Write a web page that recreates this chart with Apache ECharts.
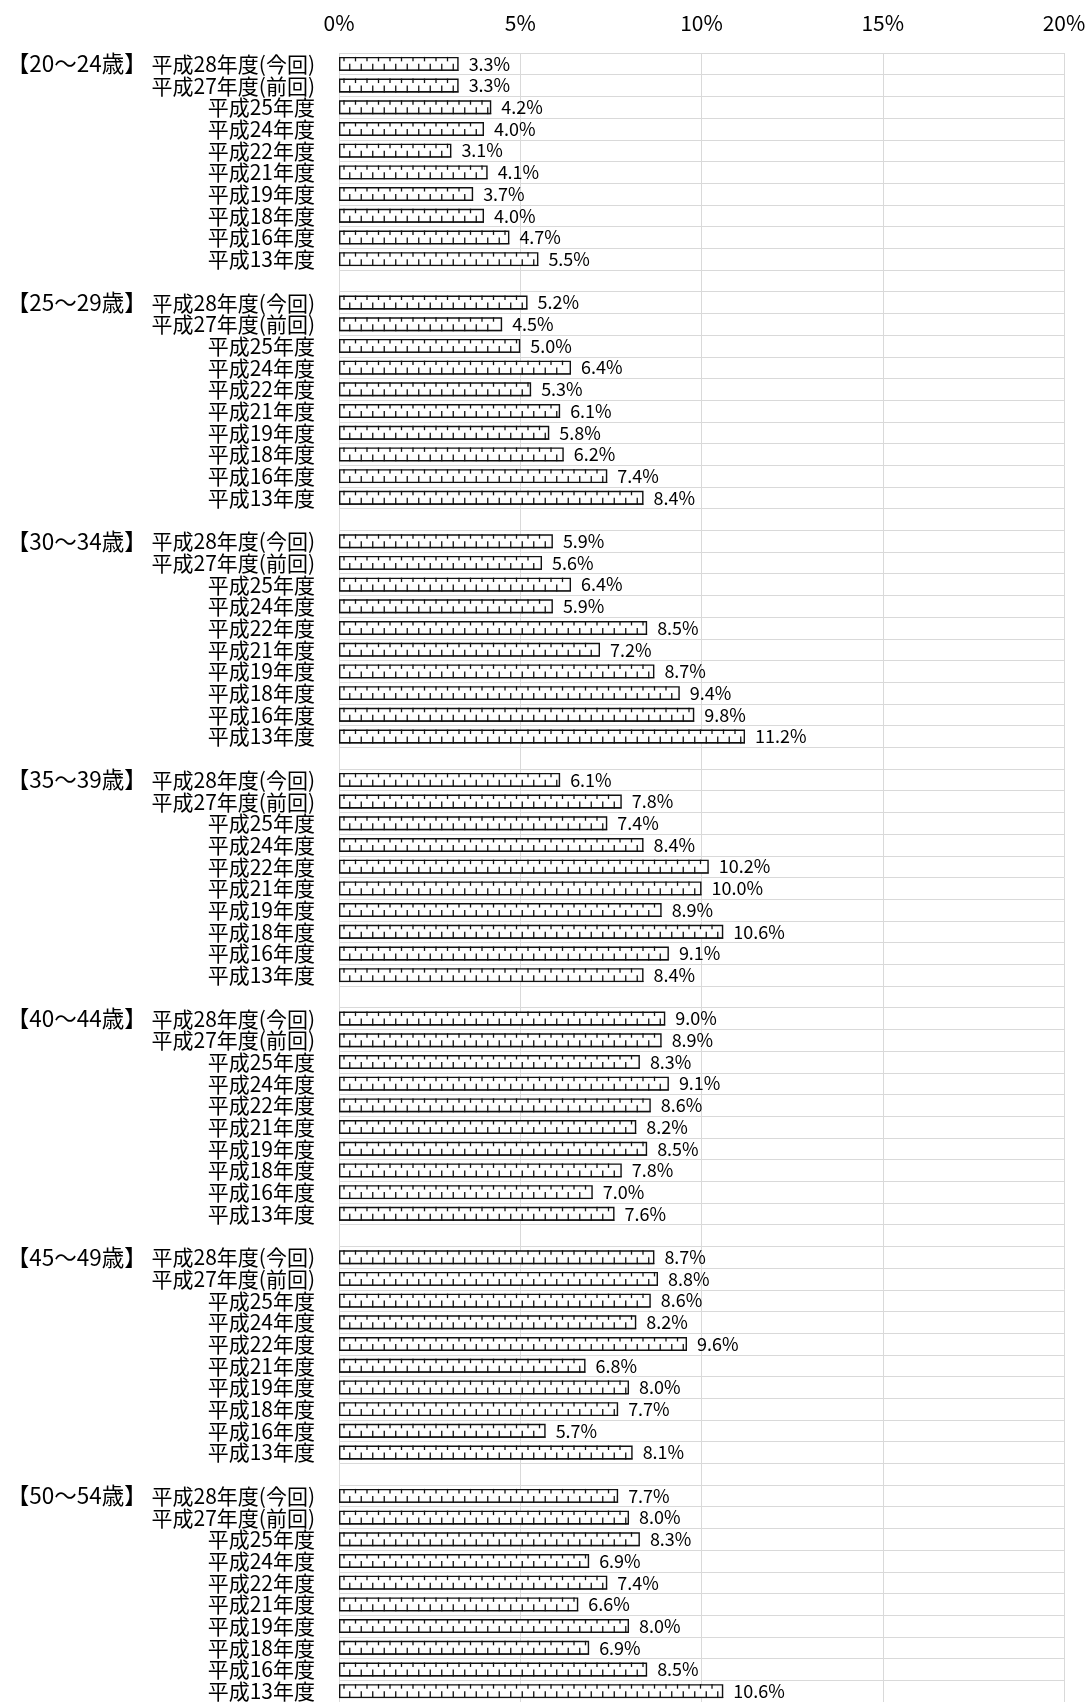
<!DOCTYPE html>
<html>
<head>
<meta charset="utf-8">
<script src="https://cdn.jsdelivr.net/npm/echarts@6/dist/echarts.min.js"></script>
<style>
html,body{margin:0;padding:0;background:#fff;}
#chart{width:1091px;height:1702px;}
</style>
</head>
<body>
<div id="chart"></div>
<script>
const ageGroups = ['【20～24歳】','【25～29歳】','【30～34歳】','【35～39歳】','【40～44歳】','【45～49歳】','【50～54歳】'];
const years = ['平成28年度(今回)','平成27年度(前回)','平成25年度','平成24年度','平成22年度','平成21年度','平成19年度','平成18年度','平成16年度','平成13年度'];
const v20_24 = [3.3, 3.3, 4.2, 4.0, 3.1, 4.1, 3.7, 4.0, 4.7, 5.5];
const v25_29 = [5.2, 4.5, 5.0, 6.4, 5.3, 6.1, 5.8, 6.2, 7.4, 8.4];
const v30_34 = [5.9, 5.6, 6.4, 5.9, 8.5, 7.2, 8.7, 9.4, 9.8, 11.2];
const v35_39 = [6.1, 7.8, 7.4, 8.4, 10.2, 10.0, 8.9, 10.6, 9.1, 8.4];
const v40_44 = [9.0, 8.9, 8.3, 9.1, 8.6, 8.2, 8.5, 7.8, 7.0, 7.6];
const v45_49 = [8.7, 8.8, 8.6, 8.2, 9.6, 6.8, 8.0, 7.7, 5.7, 8.1];
const v50_54 = [7.7, 8.0, 8.3, 6.9, 7.4, 6.6, 8.0, 6.9, 8.5, 10.6];
const groupValues = [v20_24, v25_29, v30_34, v35_39, v40_44, v45_49, v50_54];
const xMin = 0, xMax = 20, xInterval = 5;

// build category rows (with a blank row between groups)
const categories = [];
const labels = [];
const barData = [];
const tickData = [];
ageGroups.forEach((g, gi) => {
  if (gi > 0) {
    categories.push('gap' + gi);
    labels.push('');
    barData.push(null);
  }
  years.forEach((y, yi) => {
    const idx = categories.length;
    categories.push(g + '|' + y);
    labels.push(yi === 0 ? '{g|' + g + '} ' + y : y);
    const v = groupValues[gi][yi];
    barData.push(v);
    tickData.push([v, idx]);
  });
});

const FONT = "'Noto Sans CJK JP', 'Noto Sans', sans-serif";
const chart = echarts.init(document.getElementById('chart'));
chart.setOption({
  animation: false,
  backgroundColor: '#fff',
  textStyle: { fontFamily: FONT },
  grid: { left: 339, right: 27, top: 53, height: 1650, containLabel: false },
  xAxis: {
    type: 'value', position: 'top', min: xMin, max: xMax, interval: xInterval,
    axisLine: { show: false }, axisTick: { show: false },
    axisLabel: { formatter: '{value}%', fontSize: 21, color: '#000', margin: 19, fontFamily: FONT },
    splitLine: { show: true, lineStyle: { color: '#d9d9d9', width: 1 } }
  },
  yAxis: {
    type: 'category', inverse: true, data: categories,
    axisLine: { show: false }, axisTick: { show: false },
    axisLabel: {
      interval: 0, fontSize: 21, color: '#000', margin: 24, fontFamily: FONT,
      formatter: (val, i) => labels[i],
      rich: { g: { fontSize: 22.5, color: '#000', fontFamily: FONT } }
    },
    splitLine: { show: true, interval: 0, lineStyle: { color: '#d9d9d9', width: 1 } }
  },
  series: [
    {
      type: 'bar', data: barData, barWidth: '64%',
      itemStyle: { color: '#fff', borderColor: '#111', borderWidth: 1.4 },
      label: {
        show: true, position: 'right', distance: 10, fontSize: 18, color: '#000', fontFamily: FONT,
        formatter: p => p.value == null ? '' : p.value.toFixed(1) + '%'
      },
      z: 2
    },
    {
      type: 'custom', data: tickData, encode: { x: 0, y: 1 }, z: 3, silent: true,
      renderItem: (params, api) => {
        const val = api.value(0), idx = api.value(1);
        const s = api.coord([0, idx]);
        const e = api.coord([val, idx]);
        const band = api.size([0, 1])[1];
        const h = band * 0.64;
        const top = s[1] - h / 2, bot = s[1] + h / 2;
        const children = [];
        const style = { stroke: '#111', lineWidth: 1.3 };
        for (let x = s[0] + 5; x < e[0] - 3; x += 11.5) {
          children.push({ type: 'line', shape: { x1: x, y1: top, x2: x, y2: top + h * 0.32 }, style });
        }
        for (let x = s[0] + 10.75; x < e[0] - 3; x += 11.5) {
          children.push({ type: 'line', shape: { x1: x, y1: bot, x2: x, y2: bot - h * 0.5 }, style });
        }
        children.push({ type: 'line', shape: { x1: s[0], y1: bot - 0.5, x2: e[0], y2: bot - 0.5 }, style: { stroke: '#111', lineWidth: 1 } });
        return { type: 'group', children };
      }
    }
  ]
});
</script>
</body>
</html>
